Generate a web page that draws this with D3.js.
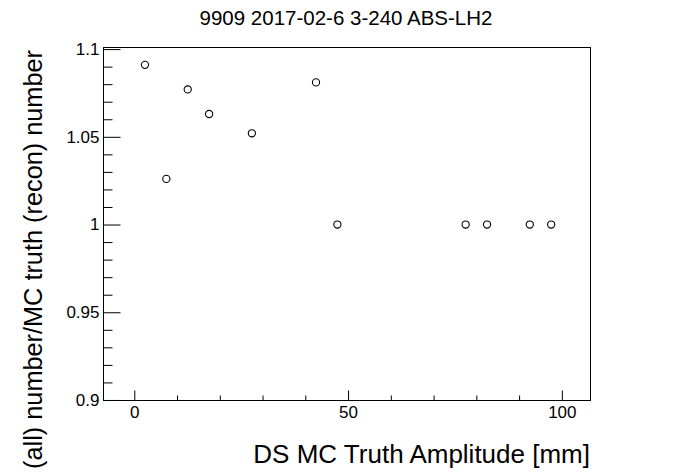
<!DOCTYPE html>
<html>
<head>
<meta charset="utf-8">
<script src="https://cdn.jsdelivr.net/npm/d3@7"></script>
<style>
  body { margin: 0; background: #fff; }
  text { font-family: "Liberation Sans", Arial, Helvetica, sans-serif; fill: #000; }
</style>
</head>
<body>
<div id="chart"></div>
<script>
// values
const amplitude = [2.5, 7.5, 12.5, 17.5, 27.5, 42.5, 47.5, 77.5, 82.5, 92.5, 97.5];
const ratio = [1.091, 1.026, 1.077, 1.063, 1.052, 1.081, 1, 1, 1, 1, 1];

const xTicks = [0, 50, 100];
const xTickLabels = ['0', '50', '100'];
const yTicks = [0.9, 0.95, 1, 1.05, 1.1];
const yTickLabels = ['0.9', '0.95', '1', '1.05', '1.1'];

const title = '9909 2017-02-6 3-240 ABS-LH2';
const xTitle = 'DS MC Truth Amplitude [mm]';
const yTitle = '(all) number/MC truth (recon) number';

const width = 696;
const height = 472;
const frame = { left: 103.5, top: 47.5, right: 590.5, bottom: 400.5 };

const svg = d3
  .select('#chart')
  .append('svg')
  .attr('width', width)
  .attr('height', height);

const xScale = d3
  .scaleLinear()
  .domain([-7.2, 106.7])
  .range([frame.left, frame.right]);

const yScale = d3
  .scaleLinear()
  .domain([0.8997, 1.1009])
  .range([frame.bottom, frame.top]);

// minor ticks every 10 mm / 0.01
const xMinor = d3.range(-10, 111, 10).filter((d) => d % 50 !== 0 && d > -7 && d < 107);
const yMinor = d3.range(90, 111).filter((d) => d % 5 !== 0).map((d) => d / 100);

// x axis
svg
  .append('g')
  .attr('transform', `translate(0,${frame.bottom})`)
  .call(d3.axisBottom(xScale).tickValues(xMinor).tickSize(-5).tickFormat(''))
  .call((g) => g.select('.domain').remove());

const xAxis = svg
  .append('g')
  .attr('transform', `translate(0,${frame.bottom})`)
  .call(
    d3
      .axisBottom(xScale)
      .tickValues(xTicks)
      .tickSize(-10)
      .tickPadding(5)
      .tickFormat((d, i) => xTickLabels[i])
  );
xAxis.select('.domain').remove();
xAxis.selectAll('text').attr('font-size', 17).attr('fill', '#000');

// y axis
svg
  .append('g')
  .attr('transform', `translate(${frame.left},0)`)
  .call(d3.axisLeft(yScale).tickValues(yMinor).tickSize(-9).tickFormat(''))
  .call((g) => g.select('.domain').remove());

const yAxis = svg
  .append('g')
  .attr('transform', `translate(${frame.left},0)`)
  .call(
    d3
      .axisLeft(yScale)
      .tickValues(yTicks)
      .tickSize(-17)
      .tickPadding(4)
      .tickFormat((d, i) => yTickLabels[i])
  );
yAxis.select('.domain').remove();
yAxis.selectAll('text').attr('font-size', 17).attr('fill', '#000');

svg.selectAll('.tick line').attr('stroke', '#000');

// frame
svg
  .append('rect')
  .attr('x', frame.left)
  .attr('y', frame.top)
  .attr('width', frame.right - frame.left)
  .attr('height', frame.bottom - frame.top)
  .attr('fill', 'none')
  .attr('stroke', '#000')
  .attr('stroke-width', 1);

// points
svg
  .selectAll('.pt')
  .data(ratio)
  .enter()
  .append('circle')
  .attr('class', 'pt')
  .attr('cx', (d, i) => xScale(amplitude[i]))
  .attr('cy', (d) => yScale(d))
  .attr('r', 3.6)
  .attr('fill', 'none')
  .attr('stroke', '#000')
  .attr('stroke-width', 1.1);

// titles
svg
  .append('text')
  .attr('x', 346)
  .attr('y', 25)
  .attr('text-anchor', 'middle')
  .attr('font-size', 20.5)
  .text(title);

svg
  .append('text')
  .attr('x', 590)
  .attr('y', 463)
  .attr('text-anchor', 'end')
  .attr('font-size', 26)
  .text(xTitle);

// runs off the bottom edge, as in the reference
svg
  .append('text')
  .attr('transform', 'translate(42,50) rotate(-90)')
  .attr('text-anchor', 'end')
  .attr('font-size', 25.3)
  .text(yTitle);
</script>
</body>
</html>
